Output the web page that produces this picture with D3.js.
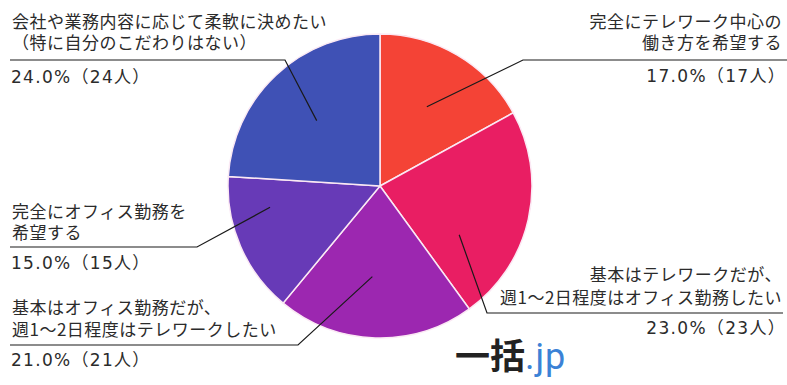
<!DOCTYPE html>
<html>
<head>
<meta charset="utf-8">
<script src="https://cdn.jsdelivr.net/npm/d3@7"></script>
<style>
  html, body { margin: 0; padding: 0; background: #fff; }
  svg { display: block; }
  text { font-family: "Noto Sans CJK JP", "Noto Sans", sans-serif; fill: #2b2b2b; }
</style>
</head>
<body>
<svg id="chart" width="787" height="385"></svg>
<script>
// Survey answers, in clockwise order from 12 o'clock
const categories = [
  ["完全にテレワーク中心の", "働き方を希望する"],
  ["基本はテレワークだが、", "週1～2日程度はオフィス勤務したい"],
  ["基本はオフィス勤務だが、", "週1～2日程度はテレワークしたい"],
  ["完全にオフィス勤務を", "希望する"],
  ["会社や業務内容に応じて柔軟に決めたい", "（特に自分のこだわりはない）"]
];
const percents = [17.0, 23.0, 21.0, 15.0, 24.0];
const counts = [17, 23, 21, 15, 24];
const colors = ["#F44336", "#E91E63", "#9C27B0", "#673AB7", "#3F51B5"];

// Callout layout: anchor inside the slice (fraction of its angle, radius),
// elbow of the leader line, end of the underline, text side and baselines.
const callouts = [
  { t: 0.50, r: 92,  elbow: [523, 60],  end: 787, side: "right", y: [28, 49, 82] },
  { t: 0.73, r: 93,  elbow: [487, 313], end: 783, side: "right", y: [281, 304, 334] },
  { t: 0.54, r: 91,  elbow: [298, 345], end: 10,  side: "left",  y: [314, 336, 366] },
  { t: 0.73, r: 112, elbow: [197, 247], end: 10,  side: "left",  y: [218, 239, 269] },
  { t: 0.49, r: 91,  elbow: [285, 60],  end: 10,  side: "left",  y: [28, 49, 83] }
];

const svg = d3.select("#chart");
const cx = 380, cy = 186, R = 152;

const pie = d3.pie().sort(null).value(d => d)(percents);
const arc = d3.arc().innerRadius(0).outerRadius(R);

const g = svg.append("g").attr("transform", `translate(${cx},${cy})`);
g.selectAll("path.slice")
  .data(pie)
  .join("path")
  .attr("class", "slice")
  .attr("d", arc)
  .attr("fill", (d, i) => colors[i])
  .attr("stroke", "#fbe9f4")
  .attr("stroke-width", 1.5);

// Leader lines
pie.forEach((d, i) => {
  const c = callouts[i];
  const a = d.startAngle + (d.endAngle - d.startAngle) * c.t;
  const px = cx + c.r * Math.sin(a);
  const py = cy - c.r * Math.cos(a);
  svg.append("polyline")
    .attr("points", [[px, py], c.elbow, [c.end, c.elbow[1]]].map(p => p.join(",")).join(" "))
    .attr("fill", "none")
    .attr("stroke", "#1a1a1a")
    .attr("stroke-width", 1.2);
});

// Labels: two lines of answer text, then the share and head count
const fmt = d3.format(".1f");
callouts.forEach((c, i) => {
  const right = c.side === "right";
  const anchor = right ? "end" : "start";
  categories[i].forEach((s, k) => {
    svg.append("text")
      .attr("x", right ? 782 : 12)
      .attr("y", c.y[k])
      .attr("text-anchor", anchor)
      .attr("font-size", 17)
      .attr("letter-spacing", 0.5)
      .text(s);
  });
  svg.append("text")
    .attr("x", right ? 786 : 11)
    .attr("y", c.y[2])
    .attr("text-anchor", anchor)
    .attr("font-size", 17)
    .attr("letter-spacing", 1.3)
    .style("font-family", "'DejaVu Sans', 'Noto Sans CJK JP', sans-serif")
    .text(`${fmt(percents[i])}%（${counts[i]}人）`);
});

// Site logo
const logo = svg.append("text")
  .attr("x", 455)
  .attr("y", 369)
  .attr("font-size", 35)
  .attr("font-weight", "bold");
logo.append("tspan").attr("fill", "#222").text("一括");
logo.append("tspan")
  .attr("fill", "#3b82d6")
  .attr("font-size", 36)
  .attr("letter-spacing", 1)
  .style("font-family", "Roboto, 'Noto Sans', sans-serif")
  .attr("font-weight", "normal")
  .text(".jp");
</script>
</body>
</html>
